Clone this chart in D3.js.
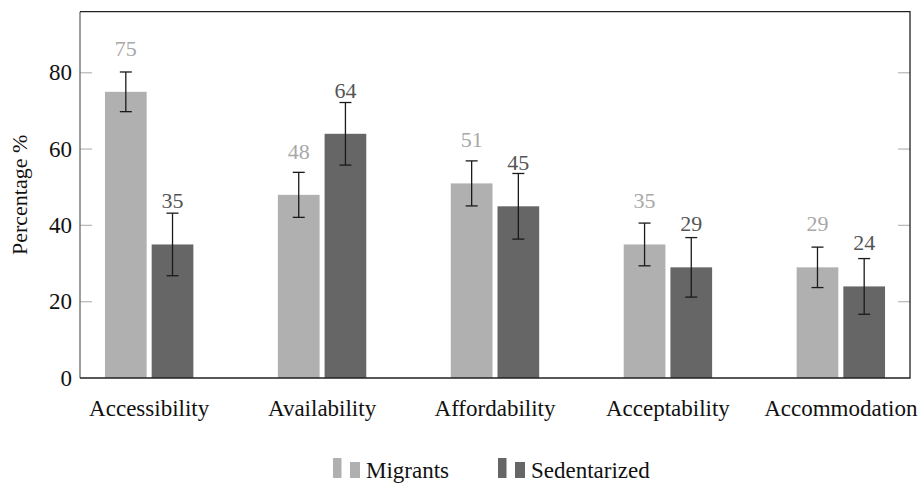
<!DOCTYPE html>
<html>
<head>
<meta charset="utf-8">
<script src="https://cdn.jsdelivr.net/npm/d3@7"></script>
</head>
<body style="margin:0">
<svg id="chart" width="921" height="486"></svg>
<script>
var categories = ["Accessibility", "Availability", "Affordability", "Acceptability", "Accommodation"];
var seriesNames = ["Migrants", "Sedentarized"];
var migrants = [75, 48, 51, 35, 29];
var sedentarized = [35, 64, 45, 29, 24];
var errMigrants = [5.2, 5.9, 5.9, 5.6, 5.3];
var errSedentarized = [8.2, 8.2, 8.6, 7.8, 7.3];
var yTicks = [0, 20, 40, 60, 80];

var colors = { "Migrants": "#b0b0b0", "Sedentarized": "#666666" };
var labelColors = { "Migrants": "#a8a8a8", "Sedentarized": "#555555" };

// plot box ("top" is window.top, so other names)
var plotL = 80, plotR = 910, plotT = 11.7, plotB = 378;
var svg = d3.select("#chart");

var x = d3.scalePoint().domain(categories).range([plotL, plotR]).padding(0.4);
var xs = d3.scaleBand().domain(seriesNames).range([-44.2, 44.2]).paddingInner(0.107);
var y = d3.scaleLinear().domain([0, 96]).range([plotB, plotT]);

var rows = [];
categories.forEach(function(c, i) {
  rows.push({ cat: c, s: "Migrants", v: migrants[i], e: errMigrants[i] });
  rows.push({ cat: c, s: "Sedentarized", v: sedentarized[i], e: errSedentarized[i] });
});

function label(size, fill) {
  return svg.append("text")
    .style("font-family", "'Liberation Serif'")
    .attr("font-size", size)
    .attr("fill", fill)
    .attr("class", "lbl");
}

// bars
svg.append("g").selectAll("rect").data(rows).join("rect")
  .attr("x", d => x(d.cat) + xs(d.s))
  .attr("y", d => y(d.v))
  .attr("width", xs.bandwidth())
  .attr("height", d => y(0) - y(d.v))
  .attr("fill", d => colors[d.s]);

// error bars
var eg = svg.append("g").attr("stroke", "#1a1a1a").attr("stroke-width", 1.3);
rows.forEach(function(d) {
  var cx = x(d.cat) + xs(d.s) + xs.bandwidth() / 2;
  eg.append("line").attr("x1", cx).attr("x2", cx).attr("y1", y(d.v - d.e)).attr("y2", y(d.v + d.e));
  eg.append("line").attr("x1", cx - 6).attr("x2", cx + 6).attr("y1", y(d.v + d.e)).attr("y2", y(d.v + d.e));
  eg.append("line").attr("x1", cx - 6).attr("x2", cx + 6).attr("y1", y(d.v - d.e)).attr("y2", y(d.v - d.e));
});

// ticks inside the frame, left and right
var tg = svg.append("g").attr("stroke", "#bbbbbb").attr("stroke-width", 1.3);
yTicks.forEach(function(t) {
  if (t === 0) return;
  tg.append("line").attr("x1", plotL).attr("x2", plotL + 12).attr("y1", y(t)).attr("y2", y(t));
  tg.append("line").attr("x1", plotR - 12).attr("x2", plotR).attr("y1", y(t)).attr("y2", y(t));
});

// frame
svg.append("line").attr("x1", plotL).attr("x2", plotL).attr("y1", plotT).attr("y2", plotB)
  .attr("stroke", "#6a6a6a").attr("stroke-width", 1.3);
svg.append("path")
  .attr("d", "M" + plotL + "," + plotT + "H" + plotR + "V" + plotB + "H" + plotL)
  .attr("fill", "none").attr("stroke", "#222").attr("stroke-width", 1.3);

// value labels
rows.forEach(function(d) {
  label(22, labelColors[d.s])
    .attr("x", x(d.cat) + xs(d.s) + xs.bandwidth() / 2)
    .attr("y", y(d.v) - 36)
    .attr("text-anchor", "middle")
    .text(d.v);
});

// y tick labels
yTicks.forEach(function(t) {
  label(23, "#111")
    .attr("x", plotL - 8)
    .attr("y", y(t) + 7.5)
    .attr("text-anchor", "end")
    .text(t);
});

// category labels
categories.forEach(function(c) {
  label(23, "#111")
    .attr("x", x(c))
    .attr("y", 416)
    .attr("text-anchor", "middle")
    .text(c);
});

// y axis title
label(22, "#111")
  .attr("transform", "translate(27," + ((plotT + plotB) / 2) + ") rotate(-90)")
  .attr("text-anchor", "middle")
  .text("Percentage %");

// legend
var legendPos = [{ s: "Migrants", x: 333 }, { s: "Sedentarized", x: 498 }];
legendPos.forEach(function(l) {
  svg.append("rect").attr("x", l.x).attr("y", 458).attr("width", 8.5).attr("height", 20).attr("fill", colors[l.s]);
  svg.append("rect").attr("x", l.x + 17).attr("y", 462).attr("width", 10).attr("height", 16).attr("fill", colors[l.s]);
  label(23, "#111").attr("x", l.x + 33).attr("y", 478).text(l.s);
});

// re-apply the family once fonts are settled
if (document.fonts && document.fonts.ready) {
  document.fonts.ready.then(function() {
    d3.selectAll("text.lbl").style("font-family", "'Liberation Serif', 'Times New Roman', serif");
  });
}
</script>
</body>
</html>
